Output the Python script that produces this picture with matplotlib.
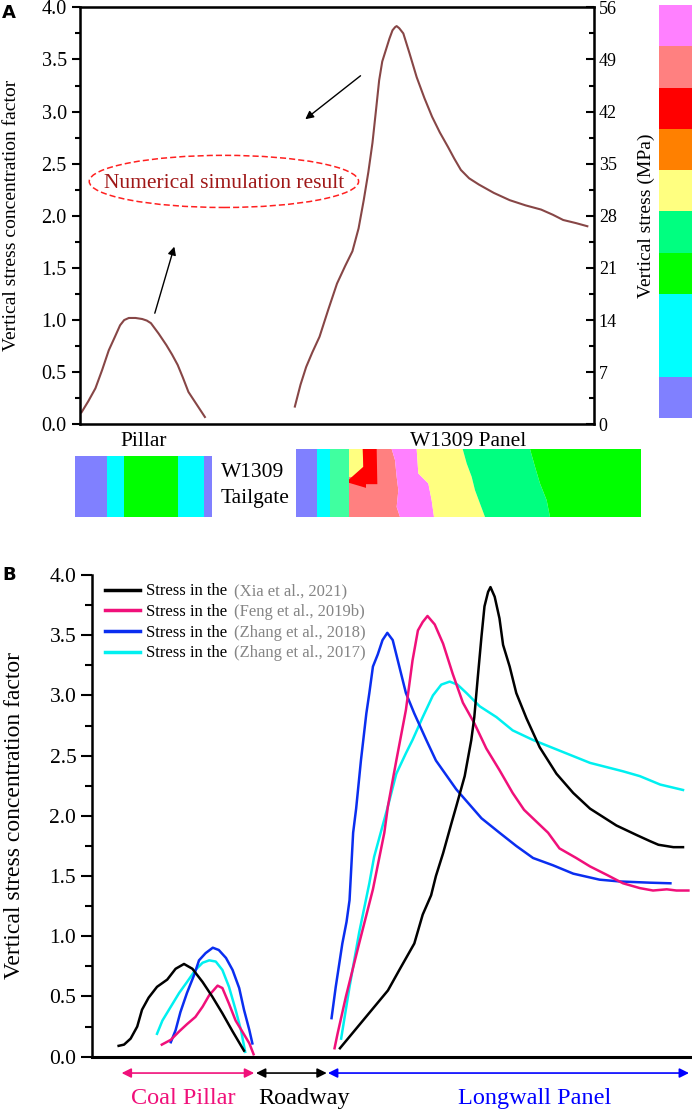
import numpy as np
import matplotlib
matplotlib.use("Agg")
from matplotlib import pyplot as plt
from matplotlib.patches import Ellipse
from matplotlib.colors import to_rgb
from matplotlib.lines import Line2D

plt.rcParams['font.family'] = ['Liberation Serif', 'DejaVu Serif']

# ---- panel A: numerical simulation (brown) ----
simPillarX = [0.3, 1.6, 3.0, 4.3, 5.6, 6.8, 7.8, 8.6, 9.5, 10.8, 12.1, 13.0, 13.8, 15.3, 16.8,
              17.9, 19.0, 20.0, 21.1, 22.7, 24.3]
simPillarY = [0.115, 0.22, 0.345, 0.52, 0.71, 0.84, 0.95, 1.00, 1.02, 1.02, 1.01, 0.995, 0.97,
              0.87, 0.76, 0.67, 0.57, 0.45, 0.31, 0.19, 0.07]
simPanelX = [41.8, 42.9, 44.0, 45.2, 46.6, 48.3, 50.0, 51.6, 53.0, 54.2, 55.2, 56.1, 56.9, 57.6,
             58.2, 58.8, 59.5, 60.2, 60.8, 61.3, 61.6, 62.1, 62.9, 64.1, 65.5, 67.0, 68.5, 70.0,
             71.6, 72.8, 74.1, 75.7, 77.6, 80.5, 83.6, 86.7, 89.7, 92.0, 94.0, 96.5, 98.7]
simPanelY = [0.17, 0.38, 0.55, 0.69, 0.84, 1.10, 1.35, 1.52, 1.66, 1.88, 2.15, 2.42, 2.70, 3.02,
             3.30, 3.48, 3.59, 3.70, 3.78, 3.81, 3.82, 3.80, 3.75, 3.56, 3.33, 3.13, 2.95, 2.80,
             2.66, 2.55, 2.44, 2.36, 2.30, 2.22, 2.15, 2.10, 2.06, 2.01, 1.96, 1.93, 1.90]

stressLevels = ['#8080FF', '#00FFFF', '#00FFFF', '#00FF00', '#00FF80',
                '#FFFF80', '#FF8000', '#FF0000', '#FF8080', '#FF80FF']
mpaTicks = [0, 7, 14, 21, 28, 35, 42, 49, 56]

# ---- panel B: field / literature curves ----
labels = ['Stress in the'] * 4
sources = ['(Xia et al., 2021)', '(Feng et al., 2019b)', '(Zhang et al., 2018)', '(Zhang et al., 2017)']
colors = ['#000000', '#F0107A', '#0A2EF0', '#00F0F0']

xiaPillarX = [4.4, 5.3, 6.4, 7.5, 8.3, 9.4, 10.8, 12.5, 13.9, 15.3, 16.7, 18.4, 20.0, 21.7, 23.4, 25.3]
xiaPillarY = [0.09, 0.10, 0.15, 0.25, 0.39, 0.49, 0.58, 0.64, 0.73, 0.77, 0.73, 0.62, 0.50, 0.36, 0.21, 0.05]
xiaPanelX = [41.3, 44.3, 46.8, 49.3, 51.2, 53.7, 55.1, 56.5, 57.3, 58.5, 59.9, 60.7, 62.1, 63.2,
             63.7, 64.3, 64.9, 65.4, 66.0, 66.4, 67.1, 67.9, 68.5, 69.6, 70.7, 72.4, 74.6, 77.4,
             80.2, 83.0, 87.4, 90.8, 93.0, 94.4, 96.9, 98.5]
xiaPanelY = [0.07, 0.25, 0.40, 0.55, 0.72, 0.94, 1.18, 1.34, 1.50, 1.69, 1.94, 2.08, 2.33, 2.63,
             2.82, 3.16, 3.49, 3.74, 3.86, 3.90, 3.82, 3.64, 3.42, 3.24, 3.02, 2.81, 2.57, 2.35,
             2.19, 2.06, 1.92, 1.84, 1.79, 1.76, 1.74, 1.74]

fengPillarX = [11.6, 13.1, 14.5, 15.8, 17.2, 18.4, 19.5, 20.9, 21.7, 22.8, 23.9, 25.0, 26.2, 26.9]
fengPillarY = [0.10, 0.14, 0.21, 0.27, 0.33, 0.415, 0.51, 0.59, 0.57, 0.44, 0.30, 0.21, 0.11, 0.02]
fengPanelX = [40.4, 40.9, 42.3, 44.5, 46.8, 48.7, 49.3, 50.7, 52.3, 53.4, 54.3, 55.1, 55.9, 57.1,
              58.5, 60.1, 61.8, 63.7, 65.7, 67.9, 70.1, 72.0, 74.1, 76.0, 77.9, 80.7, 83.0, 85.8,
              88.5, 91.3, 93.5, 95.8, 97.4, 99.4]
fengPanelY = [0.07, 0.19, 0.50, 0.94, 1.39, 1.86, 2.08, 2.46, 2.88, 3.29, 3.54, 3.61, 3.66, 3.59,
              3.43, 3.18, 2.94, 2.77, 2.56, 2.38, 2.19, 2.05, 1.95, 1.86, 1.73, 1.65, 1.58, 1.51,
              1.44, 1.40, 1.38, 1.39, 1.38, 1.38]

zh18PillarX = [13.1, 13.9, 14.7, 15.8, 17.0, 17.8, 18.9, 20.1, 21.1, 22.3, 23.4, 24.5, 25.3, 26.2, 26.7]
zh18PillarY = [0.12, 0.22, 0.37, 0.53, 0.68, 0.80, 0.86, 0.905, 0.886, 0.82, 0.72, 0.57, 0.39, 0.22, 0.11]
zh18PanelX = [39.9, 40.6, 41.7, 42.4, 42.9, 43.2, 43.5, 44.0, 44.8, 45.7, 46.2, 46.8, 47.6, 48.4, 49.2,
              50.1, 51.2, 52.3, 53.7, 55.7, 57.3, 59.0, 60.7, 62.8, 64.9, 67.9, 70.7, 73.5, 76.8,
              80.2, 84.6, 88.0, 93.0, 96.4]
zh18PanelY = [0.32, 0.58, 0.94, 1.12, 1.30, 1.58, 1.86, 2.06, 2.46, 2.85, 3.02, 3.24, 3.34, 3.46, 3.52,
              3.46, 3.24, 3.02, 2.85, 2.63, 2.46, 2.34, 2.22, 2.10, 1.98, 1.86, 1.75, 1.65, 1.59,
              1.52, 1.47, 1.455, 1.445, 1.44]

zh17PillarX = [10.8, 11.7, 13.1, 14.5, 15.8, 17.2, 18.4, 19.5, 20.6, 21.7, 22.8, 23.9, 24.8, 25.5]
zh17PillarY = [0.19, 0.30, 0.415, 0.53, 0.62, 0.72, 0.78, 0.80, 0.79, 0.72, 0.58, 0.39, 0.22, 0.04]
zh17PanelX = [41.5, 42.9, 44.5, 46.2, 47.0, 49.3, 50.7, 52.3, 53.4, 55.1, 56.8, 58.2, 59.6, 60.9,
              62.4, 64.6, 67.4, 70.1, 73.5, 78.5, 83.0, 88.5, 91.3, 94.7, 98.5]
zh17PanelY = [0.15, 0.58, 1.03, 1.44, 1.66, 2.08, 2.35, 2.52, 2.63, 2.82, 3.00, 3.09, 3.115, 3.09,
              3.02, 2.91, 2.82, 2.71, 2.63, 2.53, 2.44, 2.37, 2.33, 2.26, 2.215]

zoneNames = ['Coal Pillar', 'Roadway', 'Longwall Panel']
zoneBounds = [(4.9, 27.0), (27.3, 39.1), (39.3, 99.5)]
zoneLabelX = [15.2, 35.25, 73.8]
zoneColors = ['#F0107A', '#000000', '#0000FF']

fig = plt.figure(figsize=(6.92, 11.11), dpi=100)

# ================= panel A =================
axA = fig.add_axes([0.1156, 0.6181, 0.7428, 0.3753])
brown = '#874646'
axA.plot(simPillarX, simPillarY, color=brown, lw=1.5)
axA.plot(simPanelX, simPanelY, color=brown, lw=1.5)
axA.set_xlim(0, 100)
axA.set_ylim(0, 4.0)
axA.set_xticks([])
axA.set_yticks(np.arange(0, 4.01, 0.5))
axA.set_yticks(np.arange(0.25, 4.0, 0.5), minor=True)
axA.yaxis.set_major_formatter(matplotlib.ticker.FormatStrFormatter('%.1f'))
axA.tick_params(axis='y', which='major', direction='out', length=6, width=1.5, labelsize=14.5)
axA.tick_params(axis='y', which='minor', direction='out', length=3.5, width=1.5)
for s in axA.spines.values():
    s.set_linewidth(1.8)
axA.set_ylabel('Vertical stress concentration factor', fontsize=14)
axA.yaxis.set_label_coords(-0.117, 0.5)

axA2 = axA.twinx()
axA2.set_ylim(0, 56)
axA2.set_yticks(mpaTicks)
axA2.set_yticks(np.arange(3.5, 56, 7), minor=True)
axA2.tick_params(axis='y', which='major', direction='in', length=6, width=1.5, labelsize=13)
axA2.tick_params(axis='y', which='minor', direction='in', length=3.5, width=1.5)
axA2.set_ylabel('Vertical stress (MPa)', fontsize=14)
axA2.yaxis.set_label_coords(1.085, 0.5)

axA.add_patch(Ellipse((28.0, 2.33), 52.4, 0.50, fill=False, ec='#FF2020', ls=(0, (4, 2)), lw=1.1))
axA.text(28.0, 2.31, 'Numerical simulation result', color='#A01818', fontsize=15.5,
         ha='center', va='center')
axA.annotate('', xy=(43.4, 2.91), xytext=(55.0, 3.36),
             arrowprops=dict(arrowstyle='-|>', color='k', lw=1, mutation_scale=12))
axA.annotate('', xy=(18.5, 1.73), xytext=(14.4, 1.04),
             arrowprops=dict(arrowstyle='-|>', color='k', lw=1, mutation_scale=12))

# colour scale strip
axC = fig.add_axes([0.952, 0.6238, 0.048, 0.3717])
axC.imshow(np.array([to_rgb(c) for c in stressLevels])[::-1].reshape(-1, 1, 3),
           aspect='auto', interpolation='nearest')
axC.axis('off')

fig.text(0.2077, 0.6024, 'Pillar', fontsize=15.5, ha='center', va='center')
fig.text(0.676, 0.6024, 'W1309 Panel', fontsize=15.5, ha='center', va='center')
fig.text(0.365, 0.5743, 'W1309', fontsize=15.5, ha='center', va='center')
fig.text(0.3685, 0.5509, 'Tailgate', fontsize=15.5, ha='center', va='center')

# pillar contour picture (simplified bands)
axP = fig.add_axes([75 / 692, 1 - 517 / 1111, 137 / 692, 61 / 1111])
pillarBands = [(0, 0.23, '#8080FF'), (0.23, 0.36, '#00FFFF'), (0.36, 0.75, '#00FF00'),
               (0.75, 0.94, '#00FFFF'), (0.94, 1.0, '#8080FF')]
for a, b, c in pillarBands:
    axP.axvspan(a, b, color=c, lw=0)
axP.set_xlim(0, 1)
axP.set_ylim(0, 1)
axP.axis('off')

# panel contour picture
axR = fig.add_axes([296 / 692, 1 - 517 / 1111, 345 / 692, 68 / 1111])
axR.set_xlim(48, 1083)
axR.set_ylim(230, 27)
axR.axis('off')
axR.fill([48, 207, 207, 48], [27, 27, 230, 230], color='#00FFFF', lw=0)
axR.fill([48, 110, 110, 48], [27, 27, 230, 230], color='#8080FF', lw=0)
axR.fill([150, 207, 207, 150], [27, 27, 230, 230], color='#40FFA0', lw=0)
bandEdges = [
    ([207, 207], [27, 230]),
    ([335, 345, 350, 355, 350, 360], [27, 60, 110, 150, 200, 230]),
    ([410, 415, 445, 455, 462], [27, 100, 130, 180, 230]),
    ([548, 560, 575, 585, 600, 615], [27, 70, 110, 150, 190, 230]),
    ([750, 765, 780, 800, 810], [27, 80, 130, 180, 230]),
    ([1083, 1083], [27, 230]),
]
bandCols = ['#FF8080', '#FF80FF', '#FFFF80', '#00FF80', '#00FF00']
for i, c in enumerate(bandCols):
    lx, ly = bandEdges[i]
    rx, ry = bandEdges[i + 1]
    axR.fill(list(lx) + list(rx)[::-1], list(ly) + list(ry)[::-1], color=c, lw=0)
axR.fill([207, 250, 250, 207], [27, 27, 110, 110], color='#FFFF80', lw=0)
axR.fill([248, 290, 292, 258, 258, 207, 207, 250],
         [27, 27, 132, 132, 143, 128, 118, 80], color='#FF0000', lw=0)

fig.text(0.003, 0.996, 'A', fontsize=13, fontweight='bold', family='DejaVu Sans', va='top')

# ================= panel B =================
axB = fig.add_axes([0.1333, 0.0489, 0.8667, 0.4335])
pairs = [(xiaPillarX, xiaPillarY, xiaPanelX, xiaPanelY),
         (fengPillarX, fengPillarY, fengPanelX, fengPanelY),
         (zh18PillarX, zh18PillarY, zh18PanelX, zh18PanelY),
         (zh17PillarX, zh17PillarY, zh17PanelX, zh17PanelY)]
order = [3, 2, 1, 0]
for i in order:
    px, py, qx, qy = pairs[i]
    axB.plot(px, py, color=colors[i], lw=1.8)
    axB.plot(qx, qy, color=colors[i], lw=1.8)
axB.set_xlim(0, 100)
axB.set_ylim(0, 4.0)
axB.set_xticks([])
axB.set_yticks(np.arange(0, 4.01, 0.5))
axB.set_yticks(np.arange(0.25, 4.0, 0.5), minor=True)
axB.yaxis.set_major_formatter(matplotlib.ticker.FormatStrFormatter('%.1f'))
axB.tick_params(axis='y', which='major', direction='out', length=8, width=1.5, labelsize=15.5)
axB.tick_params(axis='y', which='minor', direction='out', length=5, width=1.5)
axB.spines['top'].set_visible(False)
axB.spines['right'].set_visible(False)
axB.spines['left'].set_linewidth(1.8)
axB.spines['bottom'].set_linewidth(2.2)
axB.set_ylabel('Vertical stress concentration factor', fontsize=17)
axB.yaxis.set_label_coords(-0.112, 0.5)

handles = [Line2D([], [], color=c, lw=2.5) for c in colors]
leg = axB.legend(handles, labels, loc='upper left', bbox_to_anchor=(0.008, 1.0), frameon=False,
                 fontsize=12, handlelength=2.1, handletextpad=0.35, labelspacing=0.28,
                 borderaxespad=0.1)

for name, (a, b), lx, c in zip(zoneNames, zoneBounds, zoneLabelX, zoneColors):
    axB.annotate('', xy=(b, -0.034), xytext=(a, -0.034),
                 xycoords=('data', 'axes fraction'), textcoords=('data', 'axes fraction'),
                 arrowprops=dict(arrowstyle='<|-|>', color=c, lw=1.2, mutation_scale=14,
                                 shrinkA=0, shrinkB=0))
    axB.text(lx, -0.086, name, color=c, fontsize=17.5, ha='center', va='center',
             transform=axB.get_xaxis_transform(), clip_on=False)

fig.text(0.003, 0.4905, 'B', fontsize=13, fontweight='bold', family='DejaVu Sans', va='top')

# grey citation text next to each legend entry
fig.canvas.draw()
renderer = fig.canvas.get_renderer()
for t, s in zip(leg.get_texts(), sources):
    bb = t.get_window_extent(renderer)
    fig.text((bb.x1 + 7) / fig.bbox.width, (bb.y0 + bb.y1) / 2 / fig.bbox.height, s,
             color='#858585', fontsize=12, ha='left', va='center')

fig.savefig('out.png', dpi=100)
